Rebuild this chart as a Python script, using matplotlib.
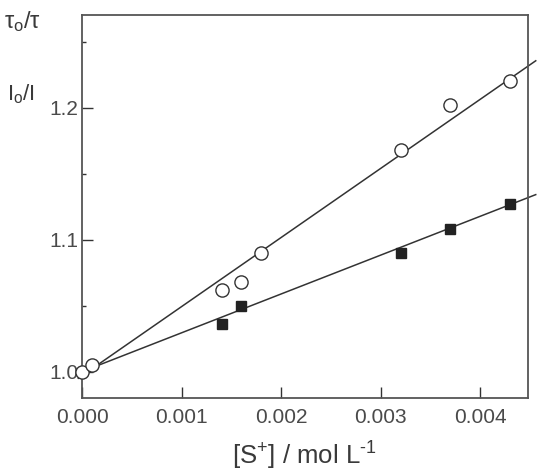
import matplotlib

matplotlib.use("Agg")
import matplotlib.pyplot as plt  # noqa: E402
import numpy as np  # noqa: E402

plt.rcParams["font.family"] = ["Liberation Sans", "DejaVu Sans"]
plt.rcParams["mathtext.fontset"] = "custom"
plt.rcParams["mathtext.rm"] = "Liberation Sans"
plt.rcParams["mathtext.it"] = "Liberation Sans"

# tau0/tau (open circles) and I0/I (filled squares) vs [S+]
conc_tau = [0.0, 0.0001, 0.0014, 0.0016, 0.0018, 0.0032, 0.0037, 0.0043]
ratio_tau = [1.000, 1.005, 1.062, 1.068, 1.090, 1.168, 1.202, 1.220]

conc_int = [0.0014, 0.0016, 0.0032, 0.0037, 0.0043]
ratio_int = [1.036, 1.050, 1.090, 1.108, 1.127]

# fitted Stern-Volmer lines (intercept, slope)
fit_tau = (0.997, 52.3)
fit_int = (1.000, 29.4)
fit_span = [-0.00004, 0.00456]

TEXT_COLOR = "#3a3a3a"
LINE_COLOR = "#333333"

fig = plt.figure(figsize=(5.38, 4.76), dpi=100)
ax = fig.add_axes([0.153, 0.164, 0.828, 0.804])

xs = np.array(fit_span)
for b, m in (fit_tau, fit_int):
    ax.plot(xs, b + m * xs, color=LINE_COLOR, lw=1.1, clip_on=False, zorder=2)

ax.plot(conc_tau, ratio_tau, "o", ms=9.5, mfc="white", mec=LINE_COLOR,
        mew=1.0, clip_on=False, zorder=3)
ax.plot(conc_int, ratio_int, "s", ms=7.5, mfc="#222222", mec="#222222",
        clip_on=False, zorder=3)

ax.set_xlim(0.0, 0.00448)
ax.set_ylim(0.98, 1.27)
ax.set_xticks([0.0, 0.001, 0.002, 0.003, 0.004])
ax.set_xticklabels(["0.000", "0.001", "0.002", "0.003", "0.004"])
ax.set_yticks([1.0, 1.1, 1.2])
ax.set_yticklabels(["1.0", "1.1", "1.2"])
ax.set_yticks([1.05, 1.15, 1.25], minor=True)

ax.tick_params(which="major", direction="in", length=8, width=1.0,
               labelsize=15, labelcolor="#4a4a4a", color=LINE_COLOR)
ax.tick_params(axis="x", pad=7)
ax.tick_params(axis="y", pad=3)
ax.tick_params(which="minor", direction="in", length=3, width=1.0,
               color=LINE_COLOR)
ax.tick_params(top=False, right=False)
for sp in ax.spines.values():
    sp.set_color("#555555")
    sp.set_linewidth(1.3)

fig.text(0.565, 0.024, "[S$^{+}$] / mol L$^{\u20101}$", ha="center",
         va="baseline", fontsize=18.5, color=TEXT_COLOR)
fig.text(0.008, 0.940, "\u03c4$_{\\mathrm{o}}$/\u03c4", ha="left",
         va="baseline", fontsize=17, color=TEXT_COLOR)
fig.text(0.013, 0.790, "I$_{\\mathrm{o}}$/I", ha="left",
         va="baseline", fontsize=16, color=TEXT_COLOR)

fig.savefig("out.png", dpi=100)
